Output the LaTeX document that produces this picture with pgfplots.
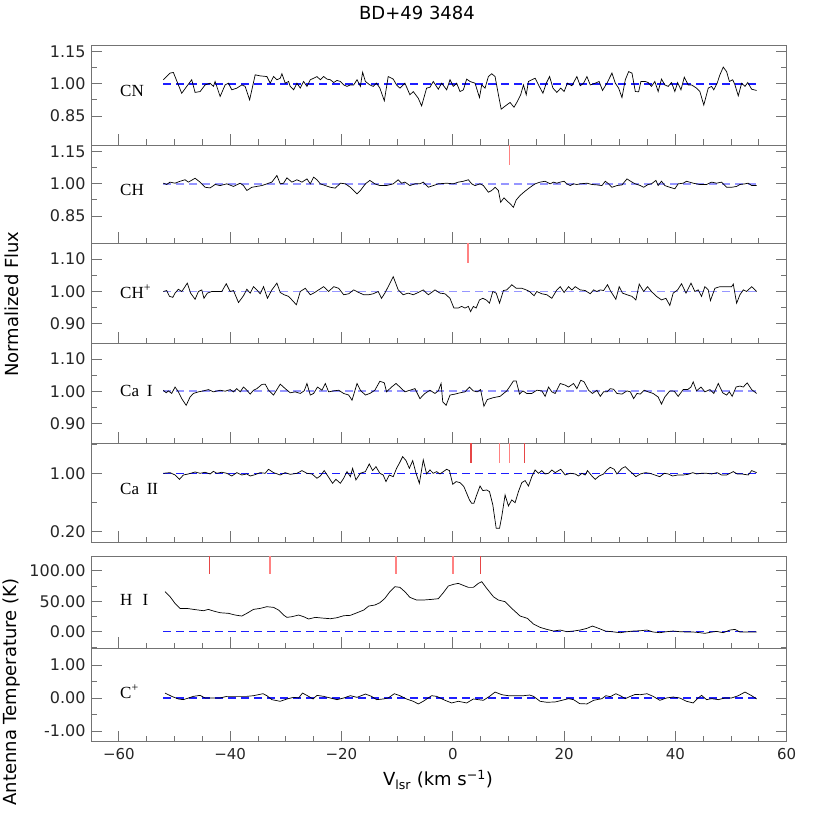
\documentclass[border=0pt]{standalone}
\usepackage{fontspec}
\setmainfont{DejaVu Sans}
\newfontfamily\speciesfont{Liberation Serif}
\usepackage{pgfplots}
\pgfplotsset{compat=1.18}
\definecolor{dashblue}{RGB}{30,30,255}
\definecolor{lavender}{RGB}{150,150,255}
\definecolor{pinkm}{RGB}{255,130,130}
\definecolor{redm}{RGB}{230,70,70}
\newcommand\tickfont{\fontsize{15}{17}\selectfont}
\newcommand\ytickfont{\fontsize{16}{18}\selectfont}
\newcommand\labfont{\fontsize{18}{20}\selectfont}
\newcommand\spfont{\speciesfont\fontsize{17}{19}\selectfont}
\pgfplotsset{
  panel/.style={
    scale only axis, width=695.7pt, xmin=-65, xmax=60,
    axis line style={black!55, line width=0.9pt},
    tick style={black!55, line width=0.9pt},
    major tick length=11pt, minor tick length=5.5pt,
    tick align=inside,
    xtick={-60,-40,...,60}, minor x tick num=3,
    xtick pos=left, ytick pos=both,
    xticklabels={},
    yticklabel style={font=\ytickfont, text=black!85, xshift=-2pt},
    xticklabel style={font=\tickfont, text=black!85, yshift=-3pt},
  },
  data/.style={black, line width=0.7pt},
  thinDash/.style={dashblue, line width=1.4pt, dash pattern=on 8pt off 5pt},
  thickDash/.style={lavender, line width=1.9pt, dash pattern=on 8pt off 5pt},
  pk/.style={pinkm, line width=1.8pt},
  rd/.style={redm, line width=1.6pt},
}
\begin{document}
\begin{tikzpicture}
\path[use as bounding box] (0,0) rectangle (830pt,830pt);

% ---------------- CN
\begin{axis}[panel, at={(91pt,685pt)}, anchor=south west, height=100pt,
  ymin=0.715, ymax=1.181, ytick={0.85,1.00,1.15}, minor ytick={0.925,1.075},
  yticklabels={0.85,1.00,1.15}]
\addplot[thinDash] coordinates {(-52,1) (55,1)};
\addplot[data] coordinates {
(-52.0,1.019) (-50.8,1.050) (-50.2,1.053) (-48.7,0.956) (-47.8,0.988) (-46.9,1.019) (-46.3,0.960) (-45.4,0.964) (-44.5,0.995) (-43.6,1.003) (-43.0,0.988) (-42.7,1.011) (-41.8,0.941) (-40.9,0.995) (-40.3,1.003) (-39.7,0.972) (-38.8,0.980) (-37.9,0.995) (-37.3,0.988) (-36.5,0.925) (-35.5,1.042) (-34.6,1.037) (-33.4,1.034) (-32.8,1.003) (-32.2,1.034) (-31.6,1.019) (-31.0,1.026) (-30.7,1.047) (-30.1,1.003) (-29.5,1.011) (-29.2,0.988) (-28.6,0.972) (-28.0,1.003) (-27.4,0.980) (-26.8,1.011) (-26.2,0.988) (-25.6,1.019) (-25.0,1.026) (-24.4,1.034) (-23.8,1.019) (-23.2,1.034) (-22.6,1.022) (-22.0,1.019) (-21.4,1.006) (-20.8,1.016) (-20.2,1.011) (-19.6,0.995) (-19.0,0.988) (-18.4,0.995) (-17.8,0.995) (-17.2,1.019) (-16.6,0.988) (-16.2,1.054) (-15.7,1.011) (-15.3,1.003) (-14.9,0.995) (-14.3,0.988) (-13.7,1.003) (-13.1,0.980) (-12.3,0.921) (-11.6,1.034) (-10.7,1.022) (-10.1,0.995) (-9.5,0.980) (-8.6,1.003) (-7.7,0.949) (-7.1,0.964) (-6.2,0.933) (-5.6,0.897) (-4.7,0.980) (-4.1,0.984) (-3.5,1.011) (-2.6,0.975) (-2.0,1.003) (-1.1,0.972) (-0.5,1.019) (0.1,0.988) (0.7,1.003) (1.3,0.964) (1.9,0.972) (2.5,1.022) (3.1,1.011) (4.0,1.003) (4.8,0.936) (5.2,0.995) (5.8,0.980) (6.4,1.034) (7.0,1.047) (7.6,1.034) (8.2,0.949) (8.7,0.882) (9.7,0.902) (10.3,0.913) (11.0,0.891) (11.5,0.913) (12.2,0.949) (12.7,0.995) (13.2,0.949) (13.6,1.011) (14.2,1.019) (14.8,1.026) (15.4,0.995) (16.2,0.956) (16.8,1.003) (17.4,1.034) (18.0,0.980) (18.7,0.960) (19.4,0.980) (20.0,0.964) (20.6,1.003) (21.4,0.991) (22.3,1.034) (22.9,0.991) (23.5,1.003) (24.1,1.034) (24.7,0.995) (25.6,1.003) (26.3,1.011) (26.9,0.969) (27.7,1.003) (28.6,1.050) (29.2,1.003) (29.8,0.980) (30.4,0.936) (31.0,1.019) (31.6,1.057) (32.2,1.050) (32.8,0.964) (33.4,0.963) (33.8,1.011) (34.6,1.011) (35.1,1.006) (35.7,0.988) (36.3,1.011) (36.9,0.964) (37.5,1.022) (38.1,0.995) (38.7,0.988) (39.3,1.006) (39.9,0.964) (40.4,1.006) (41.0,0.972) (41.6,1.031) (42.3,0.995) (42.9,0.995) (43.8,0.980) (44.4,0.964) (45.1,0.901) (45.9,0.980) (46.5,0.988) (46.9,0.972) (47.5,1.003) (48.0,1.042) (48.6,1.078) (49.2,1.057) (49.7,1.011) (50.3,1.019) (50.7,0.995) (51.3,0.944) (51.9,1.003) (52.5,0.988) (53.0,1.006) (53.7,0.975) (54.6,0.969)};
\end{axis}

% ---------------- CH
\begin{axis}[panel, at={(91pt,586.7pt)}, anchor=south west, height=98.3pt,
  ymin=0.723, ymax=1.181, ytick={0.85,1.00,1.15}, minor ytick={0.925,1.075},
  yticklabels={0.85,1.00,1.15}]
\addplot[thickDash] coordinates {(-52,1) (55,1)};
\addplot[data] coordinates {
(-52.0,1.003) (-51.4,0.997) (-50.8,1.008) (-49.9,1.003) (-49.0,1.012) (-48.1,1.019) (-47.5,1.008) (-46.3,1.026) (-45.4,1.008) (-44.5,0.984) (-43.6,0.981) (-42.7,0.997) (-41.8,0.992) (-40.6,1.000) (-39.4,0.988) (-38.2,1.003) (-37.6,0.992) (-37.0,0.969) (-36.1,0.984) (-35.2,0.988) (-34.3,0.992) (-33.4,1.000) (-32.5,1.008) (-31.6,1.039) (-31.0,1.000) (-30.4,1.003) (-29.8,1.028) (-28.9,1.008) (-28.0,1.019) (-27.1,1.008) (-26.2,1.023) (-25.6,1.000) (-25.0,1.031) (-24.4,1.019) (-23.8,1.000) (-22.9,0.992) (-22.0,0.984) (-21.1,0.980) (-20.2,1.003) (-19.3,1.000) (-18.4,0.984) (-17.2,0.953) (-16.6,0.969) (-15.7,1.000) (-14.9,1.016) (-14.0,1.000) (-13.1,0.992) (-11.9,0.992) (-10.7,1.000) (-9.8,1.019) (-9.2,1.003) (-8.6,1.008) (-7.7,0.992) (-6.8,1.000) (-5.9,1.000) (-5.3,1.008) (-4.4,0.984) (-3.5,0.992) (-2.6,1.000) (-1.1,1.003) (0.1,1.000) (1.0,1.008) (1.9,1.012) (2.8,1.019) (3.4,1.000) (4.0,0.992) (4.9,1.000) (5.5,0.992) (6.4,0.961) (7.0,0.969) (7.6,0.984) (8.2,0.969) (8.6,0.914) (9.2,0.935) (9.7,0.922) (10.3,0.907) (10.9,0.891) (11.4,0.925) (12.1,0.946) (13.0,0.966) (13.9,0.984) (14.8,1.000) (15.7,1.008) (16.6,1.012) (17.5,1.000) (18.1,1.008) (18.7,1.003) (19.3,1.008) (20.0,1.012) (20.5,1.000) (21.1,0.992) (21.7,1.000) (22.3,0.997) (22.9,1.000) (24.1,1.003) (25.0,0.997) (25.9,0.995) (26.8,0.992) (27.4,1.012) (28.0,1.000) (28.6,0.984) (29.5,0.992) (30.4,0.995) (31.3,1.023) (32.2,1.008) (32.8,1.000) (33.7,0.992) (34.3,0.984) (35.1,0.997) (35.7,1.000) (36.5,1.016) (36.9,0.992) (37.5,1.012) (38.1,0.992) (39.0,0.984) (39.9,0.977) (40.5,1.000) (41.4,1.003) (42.0,1.012) (43.2,1.003) (44.4,0.997) (45.6,0.997) (46.5,1.008) (47.4,1.003) (48.3,1.008) (49.2,0.984) (50.1,0.984) (51.0,0.988) (51.6,0.997) (52.5,1.000) (53.1,1.003) (53.7,0.992) (54.6,0.992)};
\addplot[pk] coordinates {(10.2,1.181) (10.2,1.088)};
\end{axis}

% ---------------- CH+
\begin{axis}[panel, at={(91pt,486.7pt)}, anchor=south west, height=100pt,
  ymin=0.840, ymax=1.149, ytick={0.90,1.00,1.10}, minor ytick={0.95,1.05},
  yticklabels={0.90,1.00,1.10}]
\addplot[thickDash] coordinates {(-52,1) (55,1)};
\addplot[data] coordinates {
(-52.0,1.000) (-51.4,1.003) (-50.9,0.985) (-50.3,0.982) (-49.9,0.995) (-49.3,1.007) (-48.7,1.000) (-48.3,1.010) (-47.7,1.026) (-47.1,0.995) (-46.3,0.976) (-45.7,1.000) (-45.1,1.005) (-44.7,0.979) (-44.1,0.995) (-43.3,1.000) (-42.4,1.000) (-41.5,1.000) (-40.7,1.024) (-40.0,1.000) (-39.4,1.003) (-38.5,0.966) (-37.6,0.987) (-37.0,1.007) (-36.4,0.995) (-35.8,1.015) (-35.2,1.005) (-34.6,0.993) (-34.0,1.015) (-33.3,0.979) (-32.5,1.005) (-31.6,1.026) (-31.0,0.997) (-30.3,0.990) (-29.5,0.985) (-28.9,0.974) (-28.1,0.959) (-27.4,1.000) (-26.5,1.010) (-25.6,0.990) (-25.0,0.995) (-24.1,1.005) (-23.2,1.015) (-22.3,1.000) (-21.4,1.015) (-20.5,1.010) (-19.6,0.990) (-18.7,0.993) (-17.8,1.005) (-16.9,0.997) (-16.0,0.990) (-15.1,0.990) (-14.3,0.993) (-13.4,1.000) (-12.8,0.979) (-12.2,0.995) (-11.6,1.015) (-10.7,1.046) (-9.8,1.005) (-8.9,0.990) (-8.0,0.995) (-7.1,0.990) (-6.2,0.997) (-5.3,1.005) (-4.4,0.990) (-3.8,0.997) (-3.2,1.005) (-2.3,0.995) (-1.4,0.993) (-0.5,0.979) (0.2,0.949) (1.0,0.949) (1.6,0.954) (2.2,0.949) (2.8,0.954) (3.2,0.938) (3.7,0.954) (4.2,0.949) (4.8,0.974) (5.4,0.979) (6.0,0.974) (6.6,0.964) (7.2,1.000) (7.8,0.995) (8.4,0.964) (9.1,1.003) (9.7,1.005) (10.3,1.015) (10.6,1.021) (11.4,1.010) (12.4,1.010) (13.2,1.005) (13.8,1.000) (14.6,0.987) (15.1,1.000) (16.0,0.993) (16.9,0.990) (17.8,0.979) (18.7,1.005) (19.3,1.015) (20.0,0.997) (20.8,1.015) (21.4,1.005) (22.0,1.015) (22.9,1.005) (23.8,1.003) (24.7,0.993) (25.3,1.005) (25.9,1.000) (26.5,1.005) (27.1,1.003) (27.8,1.021) (28.4,1.000) (29.3,0.976) (29.9,1.015) (30.5,0.995) (31.3,0.990) (32.2,0.985) (32.9,0.974) (33.5,1.023) (34.3,1.000) (35.0,1.015) (35.7,1.000) (36.6,0.985) (37.5,0.974) (38.3,0.979) (39.0,0.957) (39.6,0.995) (40.4,1.005) (41.1,1.024) (41.9,0.995) (42.8,1.026) (43.5,1.000) (44.1,1.005) (44.7,0.985) (45.3,1.015) (45.9,1.005) (46.3,0.972) (47.1,1.010) (48.0,1.015) (49.2,1.015) (50.1,1.015) (50.4,1.023) (51.0,0.964) (51.6,0.990) (52.2,1.005) (52.8,1.000) (53.7,1.015) (54.6,1.000)};
\addplot[pk] coordinates {(2.7,1.149) (2.7,1.087)};
\end{axis}

% ---------------- Ca I
\begin{axis}[panel, at={(91pt,386.7pt)}, anchor=south west, height=100pt,
  ymin=0.838, ymax=1.149, ytick={0.90,1.00,1.10}, minor ytick={0.95,1.05},
  yticklabels={0.90,1.00,1.10}]
\addplot[thickDash] coordinates {(-52,1) (55,1)};
\addplot[data] coordinates {
(-52.0,1.003) (-51.5,0.995) (-51.1,1.001) (-50.5,0.993) (-49.9,1.013) (-49.3,0.998) (-48.7,0.977) (-47.9,0.956) (-47.2,0.982) (-46.6,0.993) (-45.7,0.998) (-44.8,1.001) (-43.9,1.005) (-43.0,0.998) (-41.8,1.003) (-40.9,1.000) (-40.0,1.005) (-39.4,0.998) (-38.8,1.008) (-38.2,0.998) (-37.6,1.013) (-37.0,1.003) (-36.4,0.991) (-35.8,1.003) (-35.2,1.008) (-34.3,1.021) (-33.7,1.022) (-33.1,1.003) (-32.2,0.988) (-31.0,1.022) (-30.1,1.008) (-29.2,0.995) (-28.3,0.998) (-27.4,0.993) (-26.7,1.001) (-26.2,1.024) (-25.6,0.988) (-25.0,0.993) (-24.3,1.013) (-23.5,1.003) (-22.9,1.024) (-22.3,0.998) (-21.4,1.001) (-20.5,1.003) (-19.6,0.993) (-18.7,0.988) (-18.1,0.972) (-17.2,1.024) (-16.6,1.003) (-15.7,0.988) (-14.9,0.993) (-14.0,1.003) (-13.1,1.031) (-12.3,1.026) (-11.9,0.998) (-11.0,1.013) (-10.2,1.024) (-9.5,1.013) (-8.6,0.998) (-7.7,1.003) (-6.8,1.008) (-5.9,0.977) (-5.0,0.993) (-4.1,1.003) (-3.2,0.993) (-2.6,1.001) (-2.1,1.024) (-1.8,0.967) (-1.2,0.956) (-0.5,0.988) (0.4,0.991) (1.3,0.995) (2.2,0.998) (3.0,1.013) (3.7,1.001) (4.4,0.998) (5.0,1.005) (5.6,0.953) (6.2,0.974) (7.3,0.980) (8.5,0.984) (9.7,1.001) (10.3,1.016) (10.9,1.032) (11.4,1.032) (12.0,0.991) (12.6,1.001) (13.3,0.993) (14.2,0.993) (15.1,1.003) (16.0,1.001) (16.6,0.984) (17.2,1.013) (17.8,0.998) (18.4,0.993) (19.3,1.024) (20.2,1.019) (20.8,1.013) (21.7,1.024) (22.3,1.008) (23.0,1.034) (23.6,1.029) (24.4,1.003) (25.1,0.993) (25.9,1.003) (26.5,0.984) (27.1,0.998) (27.7,0.998) (28.3,1.008) (28.9,1.006) (29.5,0.993) (30.4,0.991) (31.3,1.001) (31.9,0.998) (32.5,0.977) (33.1,0.993) (33.7,0.991) (34.4,1.003) (35.1,0.998) (36.0,0.993) (36.9,0.982) (37.5,0.960) (38.1,0.982) (39.0,1.001) (39.8,1.000) (40.5,0.984) (41.4,1.005) (42.2,1.005) (42.8,1.013) (43.2,1.029) (43.8,1.001) (44.6,1.013) (45.3,0.998) (46.2,1.005) (46.9,0.993) (47.7,1.024) (48.5,0.995) (49.2,0.988) (49.7,0.998) (50.2,0.984) (50.9,1.013) (51.6,1.016) (52.2,1.013) (52.9,1.026) (53.7,1.005) (54.6,0.993)};
\end{axis}

% ---------------- Ca II
\begin{axis}[panel, at={(91pt,287.7pt)}, anchor=south west, height=99pt,
  ymin=0.055, ymax=1.411, ytick={0.20,1.00}, minor ytick={0.60,1.40},
  yticklabels={0.20,1.00}]
\addplot[thinDash] coordinates {(-52,1) (55,1)};
\addplot[data] coordinates {
(-52.0,1.000) (-50.8,1.009) (-49.9,0.977) (-49.1,0.918) (-48.4,0.977) (-47.5,0.991) (-46.3,1.018) (-45.4,1.000) (-44.5,1.014) (-43.6,0.991) (-43.0,1.027) (-42.4,1.000) (-41.5,1.014) (-40.6,1.000) (-39.7,0.963) (-38.8,1.009) (-37.9,0.977) (-37.0,0.991) (-36.4,0.963) (-35.5,0.982) (-34.6,1.009) (-33.7,1.000) (-33.1,1.055) (-32.2,1.009) (-31.0,0.977) (-30.1,1.009) (-29.2,0.986) (-28.0,1.000) (-27.1,1.037) (-26.2,1.000) (-25.3,0.991) (-24.4,0.932) (-23.8,0.963) (-23.1,1.037) (-22.3,0.945) (-21.6,0.863) (-21.0,0.918) (-20.2,0.863) (-19.6,0.932) (-19.0,1.023) (-18.4,0.954) (-18.0,1.068) (-17.4,0.909) (-16.6,1.000) (-15.7,1.023) (-15.0,1.128) (-14.4,1.037) (-13.8,1.091) (-13.1,1.000) (-12.5,0.977) (-12.0,0.886) (-11.4,0.977) (-10.7,0.954) (-10.1,1.068) (-9.6,1.137) (-9.0,1.228) (-8.4,1.174) (-7.8,1.068) (-7.2,1.174) (-6.6,1.000) (-6.0,0.863) (-5.6,1.046) (-5.3,1.183) (-4.7,0.991) (-4.1,1.046) (-3.5,1.000) (-2.9,1.023) (-2.3,0.991) (-1.7,1.023) (-1.1,1.055) (-0.6,1.037) (0.0,0.849) (0.6,0.886) (1.3,0.872) (2.0,0.817) (2.5,0.726) (3.0,0.635) (3.4,0.589) (3.8,0.589) (4.3,0.703) (4.9,0.826) (5.4,0.763) (6.1,0.772) (6.6,0.749) (7.2,0.566) (7.8,0.247) (8.4,0.247) (8.8,0.406) (9.4,0.703) (10.0,0.553) (10.6,0.635) (11.2,0.598) (11.8,0.749) (12.4,0.872) (13.0,0.900) (13.6,0.826) (14.2,0.954) (14.8,1.046) (15.4,1.000) (16.0,1.037) (16.6,0.991) (17.2,1.000) (17.8,1.046) (18.4,1.009) (19.0,1.037) (19.4,1.055) (20.2,0.977) (21.1,1.000) (22.0,0.991) (22.6,0.963) (23.2,1.000) (23.8,0.977) (24.2,1.037) (25.0,0.963) (25.6,0.918) (26.3,0.963) (27.1,0.991) (27.7,1.046) (28.3,1.082) (29.0,1.055) (29.5,0.991) (30.4,1.068) (31.0,1.091) (31.7,1.037) (32.3,1.000) (32.9,0.954) (33.7,0.991) (34.6,1.009) (35.4,1.000) (36.3,0.977) (37.2,0.954) (38.0,1.000) (38.7,0.991) (39.5,0.963) (40.4,0.977) (41.4,0.977) (42.3,0.986) (43.1,1.009) (43.8,0.991) (44.7,1.000) (45.6,1.000) (46.5,0.991) (47.5,1.009) (48.3,0.977) (49.2,0.977) (50.4,1.023) (51.1,0.991) (51.9,0.991) (53.1,0.977) (53.7,1.037) (54.6,1.009)};
\addplot[rd] coordinates {(3.3,1.411) (3.3,1.145)};
\addplot[pk] coordinates {(8.4,1.411) (8.4,1.145)};
\addplot[pk] coordinates {(10.2,1.411) (10.2,1.145)};
\addplot[rd] coordinates {(12.9,1.411) (12.9,1.145)};
\end{axis}

% ---------------- H I
\begin{axis}[panel, at={(91pt,181.7pt)}, anchor=south west, height=92.3pt,
  ymin=-27.2, ymax=124.1, ytick={0,50,100}, minor ytick={-25,25,75},
  yticklabels={0.00,50.00,100.00}]
\addplot[thinDash] coordinates {(-52,0) (55,0)};
\addplot[data] coordinates {
(-51.7,65.6) (-50.8,57.4) (-49.9,46.4) (-49.0,38.2) (-47.8,38.2) (-46.6,36.6) (-45.7,35.5) (-44.8,34.4) (-43.9,36.6) (-43.0,33.9) (-41.8,31.1) (-40.3,30.1) (-39.1,27.3) (-37.9,25.7) (-37.0,30.1) (-35.8,36.6) (-34.6,38.2) (-33.4,41.0) (-32.2,39.9) (-31.3,35.5) (-30.4,27.3) (-29.8,23.5) (-28.9,24.6) (-27.7,27.3) (-26.8,24.6) (-25.9,20.8) (-24.7,23.5) (-23.5,22.4) (-22.0,21.3) (-20.8,22.9) (-19.6,26.2) (-18.4,26.8) (-17.2,31.1) (-16.0,35.5) (-15.1,42.1) (-14.0,43.7) (-13.1,47.5) (-12.2,54.6) (-11.3,65.6) (-10.4,73.8) (-9.5,72.7) (-8.6,65.6) (-7.7,56.3) (-6.5,51.9) (-5.3,51.9) (-3.8,53.0) (-2.6,54.1) (-1.7,63.9) (-0.8,74.9) (0.1,77.6) (1.0,79.2) (1.9,75.9) (2.8,72.7) (3.7,72.7) (4.6,79.2) (5.2,82.0) (6.1,71.0) (7.3,57.4) (8.2,51.9) (9.4,49.2) (10.6,38.2) (12.1,25.7) (13.4,21.9) (14.5,12.6) (15.7,7.1) (16.9,3.8) (18.1,1.1) (19.3,2.7) (20.5,0.0) (21.7,1.1) (22.9,2.7) (24.1,5.5) (25.1,9.3) (26.2,5.5) (27.4,1.1) (28.6,0.0) (30.1,-1.6) (31.3,0.0) (32.5,1.1) (33.7,1.6) (34.9,2.7) (36.0,-0.5) (37.2,-1.6) (38.4,0.0) (39.6,1.1) (40.8,0.0) (42.0,-0.5) (43.2,-0.5) (44.4,-1.6) (45.3,-2.7) (46.2,-1.1) (47.4,0.5) (48.6,-1.6) (49.8,2.7) (50.7,3.8) (51.6,-0.5) (53.1,-0.5) (54.6,-0.5)};
\addplot[rd] coordinates {(-43.7,124.1) (-43.7,94.6)};
\addplot[pk] coordinates {(-32.8,124.1) (-32.8,94.6)};
\addplot[pk] coordinates {(-10.2,124.1) (-10.2,94.6)};
\addplot[pk] coordinates {(0.0,124.1) (0.0,94.6)};
\addplot[rd] coordinates {(5.0,124.1) (5.0,94.6)};
\end{axis}

% ---------------- C+
\begin{axis}[panel, at={(91pt,88.3pt)}, anchor=south west, height=93.4pt,
  ymin=-1.324, ymax=1.506, ytick={-1,0,1}, minor ytick={-0.5,0.5},
  yticklabels={-1.00,0.00,1.00},
  xticklabels={−60,−40,−20,0,20,40,60}]
\addplot[thinDash] coordinates {(-52,0) (55,0)};
\addplot[data] coordinates {
(-51.7,0.15) (-50.5,0.05) (-49.3,-0.03) (-48.4,-0.05) (-47.5,0.00) (-46.6,0.05) (-45.4,0.08) (-44.5,0.00) (-43.3,0.00) (-41.8,0.00) (-40.6,0.05) (-39.4,0.05) (-38.2,0.05) (-37.0,0.05) (-35.8,0.07) (-34.1,0.13) (-33.4,0.07) (-32.5,-0.05) (-31.0,-0.10) (-29.8,-0.03) (-28.6,0.02) (-27.7,0.00) (-27.0,0.15) (-25.9,0.05) (-25.1,-0.03) (-24.4,0.08) (-23.2,0.05) (-22.0,0.00) (-20.8,-0.05) (-19.6,0.00) (-18.4,0.07) (-17.2,0.02) (-15.7,0.12) (-14.6,0.05) (-13.7,-0.05) (-12.5,-0.03) (-11.6,0.00) (-10.5,0.13) (-9.5,0.07) (-8.3,-0.03) (-7.1,-0.10) (-6.2,-0.18) (-5.3,-0.10) (-3.8,0.07) (-2.9,0.05) (-1.4,-0.07) (-0.2,-0.15) (1.0,-0.10) (2.5,-0.15) (3.7,-0.03) (4.6,-0.05) (5.5,-0.07) (6.6,0.05) (7.6,0.18) (8.8,0.10) (10.0,0.07) (11.5,0.07) (12.7,0.07) (13.8,0.09) (14.5,0.05) (15.7,-0.10) (16.9,-0.13) (18.4,-0.12) (19.6,-0.07) (20.8,-0.02) (21.7,-0.05) (22.8,-0.17) (24.1,-0.18) (25.3,-0.07) (26.8,-0.02) (27.5,0.07) (28.3,0.04) (29.3,0.13) (30.1,0.07) (31.0,-0.02) (31.9,0.05) (32.8,0.11) (33.7,0.10) (34.9,0.13) (36.0,0.05) (37.2,-0.07) (38.4,0.00) (39.6,0.03) (40.8,0.00) (42.0,-0.10) (43.2,-0.15) (44.1,0.00) (44.7,0.08) (45.6,-0.05) (46.5,-0.02) (47.7,-0.05) (48.9,0.00) (50.1,0.00) (51.3,0.07) (52.5,0.18) (53.7,0.07) (54.6,-0.03)};
\end{axis}

% ---------------- texts
\node[font=\labfont] at (417pt,817pt) {BD+49 3484};
\node[font=\labfont, rotate=90] at (12pt,526pt) {Normalized Flux};
\node[font=\labfont, rotate=90] at (12pt,138pt) {Antenna Temperature (K)};
\node[font=\labfont] at (438pt,50pt) {V\textsubscript{lsr} (km s\textsuperscript{−1})};
\node[anchor=west, font=\spfont] at (116.7pt,739pt) {CN};
\node[anchor=west, font=\spfont] at (116.7pt,640pt) {CH};
\node[anchor=west, font=\spfont] at (116.7pt,538.3pt) {CH\textsuperscript{+}};
\node[anchor=west, font=\spfont] at (116.7pt,439pt) {Ca\hspace{0.45em}I};
\node[anchor=west, font=\spfont] at (116.7pt,340.7pt) {Ca\hspace{0.45em}II};
\node[anchor=west, font=\spfont] at (116.7pt,230pt) {H\hspace{0.6em}I};
\node[anchor=west, font=\spfont] at (116.7pt,138.3pt) {C\textsuperscript{+}};
\end{tikzpicture}
\end{document}
